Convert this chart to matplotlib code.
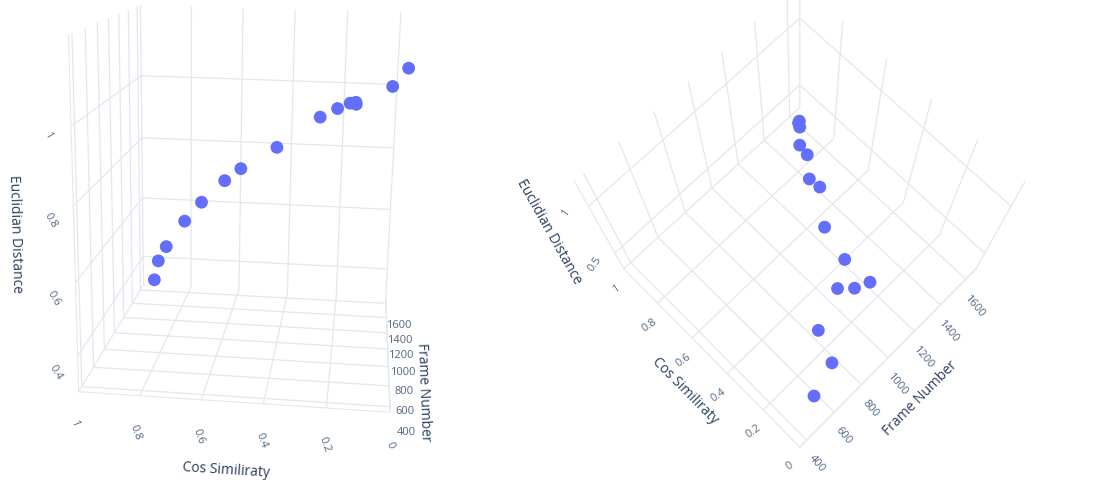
import matplotlib
matplotlib.use("Agg")
import matplotlib.pyplot as plt

# Per-frame similarity measurements
frame_number = [430, 590, 660, 860, 910, 980, 990, 1070, 1230, 1240, 1360, 1400, 1520, 1570, 1590]
cos_similarity = [0.00, 0.04, 0.15, 0.21, 0.17, 0.15, 0.27, 0.42, 0.56, 0.62, 0.72, 0.79, 0.88, 0.92, 0.94]
euclidean_distance = [1.16, 1.10, 1.05, 1.01, 1.02, 1.01, 0.97, 0.87, 0.78, 0.74, 0.65, 0.58, 0.47, 0.41, 0.34]

cos_ticks = [0, 0.2, 0.4, 0.6, 0.8, 1]
frame_ticks = [400, 600, 800, 1000, 1200, 1400, 1600]
dist_ticks_left = [0.4, 0.6, 0.8, 1]
dist_ticks_right = [0.5, 1]

MARKER = "#636efa"
GRID = "#e3e7ee"
TEXT = "#2a3f5f"
TICK = "#506784"

plt.rcParams["font.family"] = ["Open Sans", "DejaVu Sans"]


def style_axes(ax, dist_ticks, focal):
    ax.set_proj_type("persp", focal_length=focal)
    for axis in (ax.xaxis, ax.yaxis, ax.zaxis):
        axis.set_pane_color((1, 1, 1, 0))
        axis.pane.set_edgecolor(GRID)
        axis._axinfo["grid"]["color"] = GRID
        axis._axinfo["grid"]["linewidth"] = 0.9
        axis._axinfo["tick"]["inward_factor"] = 0.0
        axis._axinfo["tick"]["outward_factor"] = 0.0
        axis.line.set_color(GRID)
    ax.set_xticks(cos_ticks)
    ax.set_yticks(frame_ticks)
    ax.set_zticks(dist_ticks)
    ax.set_xticklabels([f"{t:g}" for t in cos_ticks])
    ax.set_yticklabels([str(t) for t in frame_ticks])
    ax.set_zticklabels([f"{t:g}" for t in dist_ticks])
    ax.tick_params(labelsize=8, labelcolor=TICK, pad=2)
    ax.set_xlabel("Cos Similiraty", color=TEXT, fontsize=10)
    ax.set_ylabel("Frame Number", color=TEXT, fontsize=10)
    ax.set_zlabel("Euclidian Distance", color=TEXT, fontsize=10)
    ax.set_xlim(1.0, 0.0)
    ax.set_ylim(350, 1680)
    ax.set_zlim(0.3, 1.22)
    ax.zaxis.set_ticks_position("lower")
    ax.zaxis.set_label_position("lower")


fig = plt.figure(figsize=(11.17, 4.81), dpi=100)

# Front view: frame number runs into the depth
ax1 = fig.add_axes([-0.01, 0.095, 0.46, 1.0], projection="3d")
style_axes(ax1, dist_ticks_left, 0.4)
ax1.scatter(cos_similarity, frame_number, euclidean_distance, s=85, c=MARKER,
            depthshade=False, edgecolors="none")
ax1.view_init(elev=15, azim=-84, roll=-1)
ax1.set_box_aspect((1, 1, 1.15), zoom=1.05)
for lbl in ax1.get_xticklabels():
    lbl.set_rotation(-70)
for lbl in ax1.get_zticklabels():
    lbl.set_rotation(-60)

# Overhead view looking down into the box
ax2 = fig.add_axes([0.45, -0.015, 0.52, 1.04], projection="3d")
style_axes(ax2, dist_ticks_right, 0.4)
ax2.scatter(cos_similarity, frame_number, euclidean_distance, s=85, c=MARKER,
            depthshade=False, edgecolors="none")
ax2.view_init(elev=72, azim=-45)
ax2.set_box_aspect((1, 1, 1), zoom=0.94)
for lbl in ax2.get_xticklabels():
    lbl.set_rotation(35)
for lbl in ax2.get_yticklabels():
    lbl.set_rotation(-50)
for lbl in ax2.get_zticklabels():
    lbl.set_rotation(55)
ax2.yaxis.labelpad = 14
ax2.xaxis.labelpad = 8

fig.savefig("out.png", dpi=100, facecolor="white")
